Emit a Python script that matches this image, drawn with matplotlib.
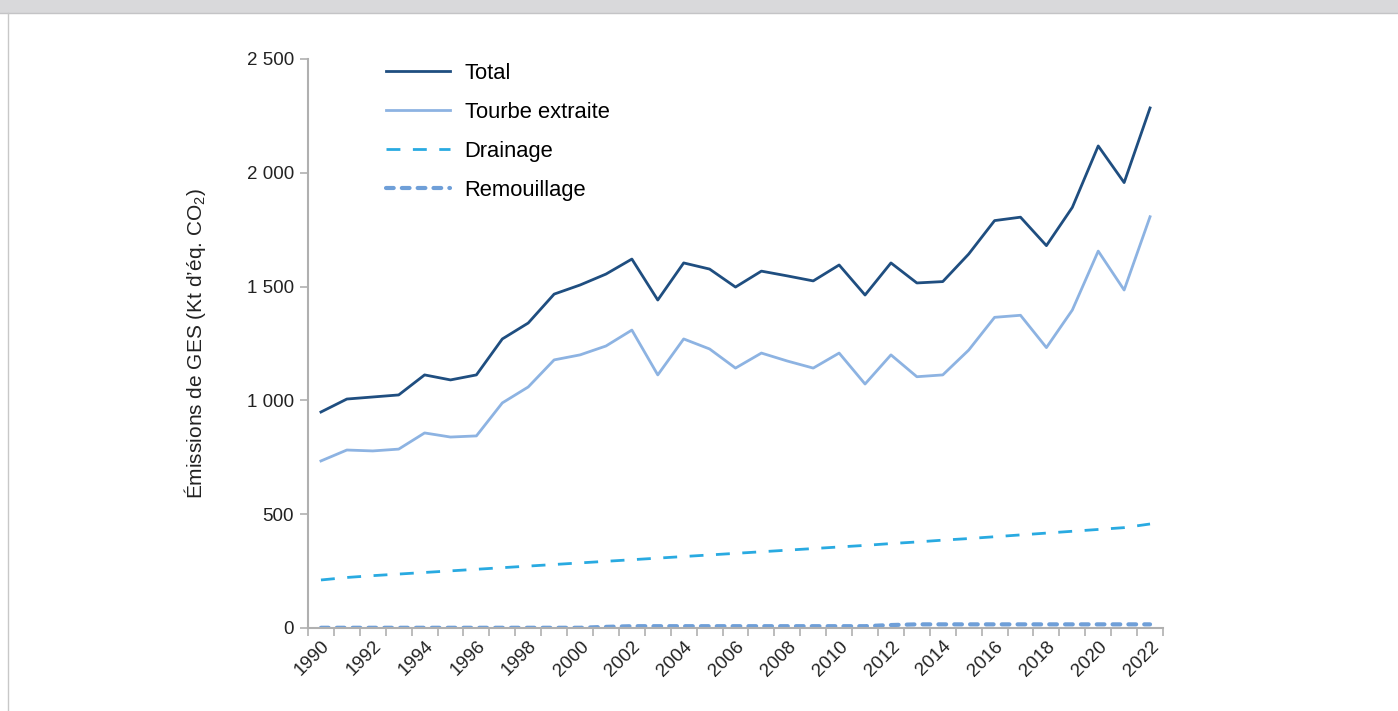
import matplotlib.pyplot as plt
from matplotlib.ticker import FuncFormatter, FixedLocator

plt.rcParams['font.family'] = ['Liberation Sans', 'DejaVu Sans']
plt.rcParams['mathtext.fontset'] = 'custom'
plt.rcParams['mathtext.rm'] = 'Liberation Sans'
plt.rcParams['mathtext.it'] = 'Liberation Sans'

years = list(range(1990, 2023))

total = [949, 1006, 1015, 1024, 1112, 1090, 1112, 1270, 1340, 1467, 1507,
         1555, 1621, 1441, 1604, 1577, 1498, 1568, 1547, 1525, 1595, 1463,
         1604, 1516, 1522, 1643, 1790, 1805, 1680, 1848, 2118, 1957, 2285]
tourbe = [734, 782, 778, 786, 857, 839, 844, 989, 1059, 1178, 1200,
          1239, 1309, 1112, 1270, 1226, 1142, 1208, 1173, 1142, 1208, 1072,
          1200, 1104, 1112, 1221, 1365, 1374, 1232, 1397, 1656, 1485, 1807]
drainage = [211, 222, 230, 237, 244, 251, 258, 265, 272, 279, 286,
            293, 300, 307, 314, 321, 328, 335, 342, 349, 356, 363,
            371, 378, 386, 393, 401, 409, 417, 425, 433, 441, 457]
remouillage = [1, 1, 1, 1, 1, 1, 1, 1, 1, 1, 1,
               5, 8, 8, 8, 8, 8, 8, 8, 8, 8, 8,
               13, 16, 16, 16, 16, 16, 16, 16, 16, 16, 16]

W, H = 1398, 711
fig = plt.figure(figsize=(W / 100, H / 100), dpi=100)

# grey header band and left frame line (title is cut off in the source)
fig.patches.append(plt.Rectangle((0, 1 - 13/H), 1, 13/H, transform=fig.transFigure,
                                 facecolor='#d9d9db', edgecolor='none'))
fig.add_artist(plt.Line2D([0, 1], [1 - 13/H, 1 - 13/H], transform=fig.transFigure,
                          color='#c4c4c6', lw=1))
fig.add_artist(plt.Line2D([8/W, 8/W], [0, 1 - 13/H], transform=fig.transFigure,
                          color='#c8c8c8', lw=1))

ax = fig.add_axes([308/W, 1 - 628/H, (1163 - 308)/W, (628 - 59)/H])

x = list(range(len(years)))
ax.plot(x, total, color='#1f4e80', lw=2, label='Total')
ax.plot(x, tourbe, color='#8db3e2', lw=2, label='Tourbe extraite')
ax.plot(x, drainage, color='#29aae1', lw=2, dashes=(5, 4.5), label='Drainage')
ax.plot(x, remouillage, color='#6f9fd8', lw=3, dashes=(1.85, 1.95),
        dash_capstyle='round', label='Remouillage')

ax.set_xlim(-0.5, len(years) - 0.5)
ax.set_ylim(0, 2500)
ax.set_yticks([0, 500, 1000, 1500, 2000, 2500])
ax.yaxis.set_major_formatter(FuncFormatter(lambda v, p: f"{int(v):,}".replace(',', ' ')))

ax.set_xticks(x[::2])
ax.set_xticklabels([str(y) for y in years[::2]], rotation=45, ha='right',
                   rotation_mode='anchor')
ax.xaxis.set_minor_locator(FixedLocator([i - 0.5 for i in range(len(years) + 1)]))
ax.tick_params(axis='x', which='major', length=0, pad=7, labelsize=13.5, labelcolor='#222222')
ax.tick_params(axis='x', which='minor', length=6, color='#b0b0b0', width=1.2)
ax.tick_params(axis='y', length=6, color='#b0b0b0', width=1.2, labelsize=13.5,
               labelcolor='#222222', pad=4)

for s in ['top', 'right']:
    ax.spines[s].set_visible(False)
for s in ['left', 'bottom']:
    ax.spines[s].set_color('#b0b0b0')
    ax.spines[s].set_linewidth(1.5)

ax.set_ylabel("Émissions de GES (Kt d’éq. CO$_2$)", fontsize=15, labelpad=28, color='#222222')

ax.legend(loc='upper left', bbox_to_anchor=(366/W, 1 - 43/H), bbox_transform=fig.transFigure,
          frameon=False, fontsize=15.8, handlelength=2.95, handletextpad=0.64,
          labelspacing=0.82)

fig.savefig('out.png', dpi=100)
